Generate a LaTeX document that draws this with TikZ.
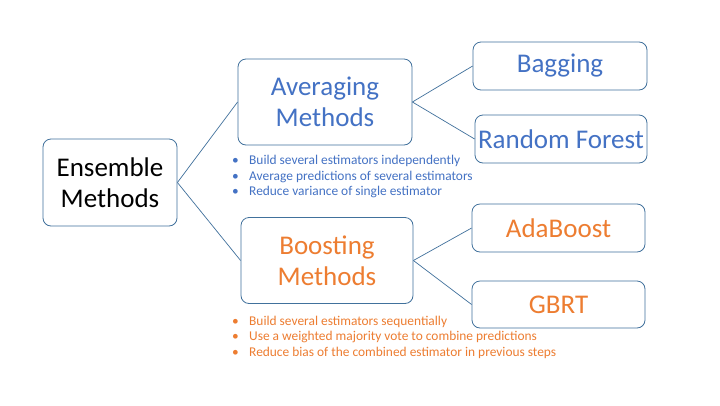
\documentclass[tikz,border=0pt]{standalone}
\usepackage{fontspec}
\setmainfont{Carlito}
\definecolor{boxline}{RGB}{65,113,156}
\definecolor{avgblue}{RGB}{68,114,196}
\definecolor{boostorange}{RGB}{237,125,49}
\newcommand{\itembul}{\makebox[17pt][l]{\textbullet}}

\begin{document}
\begin{tikzpicture}[x=1pt,y=-1pt,
  box/.style={draw=boxline,line width=0.8pt,rounded corners=8pt,align=center,
    inner sep=0pt,minimum width=174pt,font=\fontsize{27}{31}\selectfont},
  bigbox/.style={box,minimum height=86pt},
  smallbox/.style={box,minimum height=48pt},
  notes/.style={anchor=north west,align=left,inner sep=0pt,
    font=\fontsize{13.4}{15.5}\selectfont},
  link/.style={draw=boxline,line width=0.7pt}]
\fill[white] (0,0) rectangle (720,405);
\useasboundingbox (0,0) rectangle (720,405);
% root
\node[box,minimum width=134pt,minimum height=87pt] (ens) at (110,182.5) {Ensemble\\Methods};
% averaging branch
\node[bigbox,text=avgblue] (avg) at (325,102) {Averaging\\Methods};
\node[smallbox,text=avgblue] (bag) at (560,66) {Bagging};
\node[smallbox,text=avgblue,minimum width=172pt] (rf) at (561,139) {Random Forest};
\node[notes,text=avgblue] (avgnotes) at (232,155) {\itembul Build several estimators independently\\
  \itembul Average predictions of several estimators\\
  \itembul Reduce variance of single estimator};
% boosting branch
\node[bigbox,text=boostorange,minimum width=172pt] (boost) at (327,260.5) {Boosting\\Methods};
\node[smallbox,text=boostorange,minimum width=173pt] (ada) at (558.5,228) {AdaBoost};
\node[smallbox,text=boostorange,minimum width=173pt,minimum height=47pt] (gbrt) at (558.5,304.5) {GBRT};
\node[notes,text=boostorange] (boostnotes) at (232,315.5) {\itembul Build several estimators sequentially\\
  \itembul Use a weighted majority vote to combine predictions\\
  \itembul Reduce bias of the combined estimator in previous steps};
% connectors
\draw[link] (ens.east) -- (avg.west);
\draw[link] (ens.east) -- (boost.west);
\draw[link] (avg.east) -- (bag.west);
\draw[link] (avg.east) -- (rf.west);
\draw[link] (boost.east) -- (ada.west);
\draw[link] (boost.east) -- (gbrt.west);
\end{tikzpicture}
\end{document}
